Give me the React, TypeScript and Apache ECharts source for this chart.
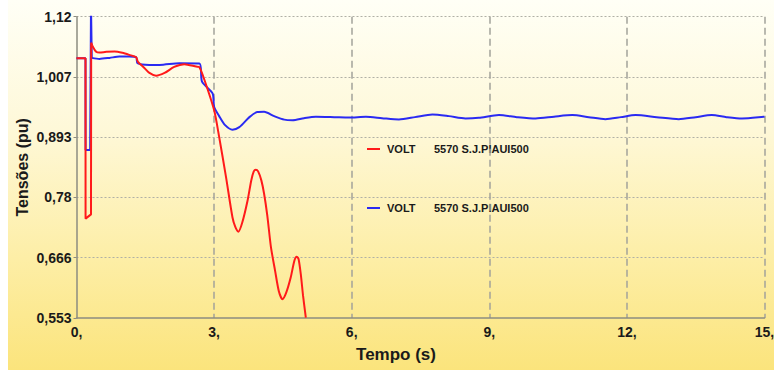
import { useEffect, useRef } from "react";
import * as echarts from "echarts";

const xTicks = [0, 3, 6, 9, 12, 15];
const xTickLabels = ["0,", "3,", "6,", "9,", "12,", "15,"];
const yTicks = [0.553, 0.6664, 0.7798, 0.8932, 1.0066, 1.12];
const yTickLabels = ["0,553", "0,666", "0,78", "0,893", "1,007", "1,12"];
const legendWord = "VOLT";
const legendBus = "5570 S.J.PIAUI500";
const xTitle = "Tempo (s)";
const yTitle = "Tensões (pu)";

const redFault = [
  [0, 1.042], [0.196, 1.042], [0.198, 0.74], [0.316, 0.748], [0.32, 1.071], [0.348, 1.065],
];
const redPost = [
  [0.348, 1.065], [0.429, 1.054], [0.5, 1.0525], [0.65, 1.0539], [0.83, 1.0544], [1.0, 1.052],
  [1.15, 1.0482], [1.3, 1.0438], [1.34, 1.0349], [1.48, 1.0236], [1.59, 1.0142], [1.735, 1.0091],
  [1.92, 1.0142], [2.13, 1.0255], [2.35, 1.0306], [2.61, 1.0261], [2.68, 1.0249], [2.79, 1.0009],
  [3.0, 0.9442], [3.11, 0.8938], [3.26, 0.8182], [3.4, 0.7426], [3.46, 0.725], [3.53, 0.7155],
  [3.614, 0.7326], [3.73, 0.7741], [3.81, 0.8119], [3.865, 0.829], [3.91, 0.8322], [3.96, 0.829],
  [4.03, 0.812], [4.09, 0.7868], [4.16, 0.7458], [4.24, 0.6859], [4.33, 0.6418], [4.41, 0.604],
  [4.49, 0.5883], [4.57, 0.6002], [4.67, 0.6292], [4.75, 0.6607], [4.8, 0.6683], [4.84, 0.6645],
  [4.89, 0.6356], [4.94, 0.5946], [5.0, 0.5536],
];
const blueFault = [
  [0, 1.042], [0.196, 1.042], [0.198, 0.869], [0.298, 0.869], [0.316, 1.14], [0.333, 1.0425],
];
const bluePost = [
  [0.333, 1.0425], [0.5, 1.0406], [0.72, 1.0425], [0.936, 1.045], [1.15, 1.045], [1.3, 1.0438],
  [1.33, 1.0325], [1.59, 1.0293], [1.81, 1.0293], [2.24, 1.0325], [2.68, 1.0321], [2.737, 0.9977],
  [2.967, 0.9758], [3.0, 0.9505], [3.11, 0.9329], [3.24, 0.9159], [3.4, 0.9074], [3.55, 0.9121],
  [3.77, 0.931], [3.94, 0.9405], [4.09, 0.941], [4.31, 0.9329], [4.53, 0.9263], [4.71, 0.9253],
  [4.96, 0.9291], [5.22, 0.9316], [5.62, 0.931], [5.94, 0.9304], [6.31, 0.9316], [6.66, 0.9291],
  [7.03, 0.9267], [7.38, 0.931], [7.76, 0.9361], [8.12, 0.9329], [8.48, 0.9285], [8.77, 0.9297],
  [9.21, 0.9348], [9.6, 0.931], [10.01, 0.9285], [10.41, 0.9319], [10.81, 0.9348], [11.17, 0.931],
  [11.53, 0.9272], [11.87, 0.931], [12.19, 0.9348], [12.65, 0.931], [13.13, 0.9272], [13.5, 0.931],
  [13.85, 0.9348], [14.17, 0.931], [14.51, 0.9285], [14.98, 0.9316], [15, 0.932],
];

const RED = "#ff1a1a";
const BLUE = "#2a2af2";
const FONT = "Liberation Sans, Arial, sans-serif";

export default function App() {
  const ref = useRef<HTMLDivElement>(null);
  useEffect(() => {
    if (!ref.current) return;
    const chart = echarts.init(ref.current, undefined, { renderer: "svg" });
    const lineBase = (name: string, data: number[][], color: string, smooth: number | boolean) => ({
      name,
      type: "line",
      data,
      showSymbol: false,
      symbol: "none",
      smooth,
      clip: true,
      lineStyle: { color, width: 2 },
      itemStyle: { color },
      z: color === BLUE ? 3 : 4,
    });
    const legendItem = (y: number, color: string) => [
      { type: "line", shape: { x1: 359, y1: y, x2: 372, y2: y }, style: { stroke: color, lineWidth: 2 } },
      { type: "text", x: 379, y, style: { text: legendWord, font: `bold 11px ${FONT}`, fill: "#1a1a1a", verticalAlign: "middle" } },
      { type: "text", x: 426, y, style: { text: legendBus, font: `bold 11px ${FONT}`, fill: "#1a1a1a", verticalAlign: "middle" } },
    ];
    chart.setOption({
      animation: false,
      backgroundColor: "transparent",
      grid: { left: 68.5, right: 9.5, top: 16.7, bottom: 52, containLabel: false, outerBoundsMode: "none" },
      xAxis: {
        type: "value",
        min: 0,
        max: 15,
        interval: 3,
        name: xTitle,
        nameLocation: "middle",
        nameGap: 28,
        nameTextStyle: { fontFamily: FONT, fontWeight: "bold", fontSize: 17, color: "#1a1a1a", padding: [0, 49, 0, 0] },
        axisLine: { show: true, lineStyle: { color: "#8c8c80", width: 1.5 } },
        axisTick: { show: false },
        axisLabel: {
          fontFamily: FONT, fontWeight: "bold", fontSize: 14, color: "#1a1a1a", margin: 7,
          formatter: (v: number) => { const i = xTicks.indexOf(v); return i >= 0 ? xTickLabels[i] : ""; },
        },
        splitLine: { show: true, showMinLine: false, lineStyle: { color: "#a3a39a", width: 1.5, type: [7, 4] } },
      },
      yAxis: {
        type: "value",
        min: 0.553,
        max: 1.12,
        name: yTitle,
        nameLocation: "middle",
        nameGap: 46,
        nameMoveOverlap: false,
        nameRotate: 90,
        nameTextStyle: { fontFamily: FONT, fontWeight: "bold", fontSize: 16, color: "#1a1a1a" },
        axisLine: { show: true, lineStyle: { color: "#8c8c80", width: 1.5 } },
        axisTick: { show: true, length: 3, customValues: yTicks, lineStyle: { color: "#8c8c80" } },
        axisLabel: {
          customValues: yTicks,
          fontFamily: FONT, fontWeight: "bold", fontSize: 14, color: "#1a1a1a", margin: 5,
          formatter: (v: number) => {
            let best = 0;
            yTicks.forEach((t, i) => { if (Math.abs(t - v) < Math.abs(yTicks[best] - v)) best = i; });
            return yTickLabels[best];
          },
        },
        splitLine: { show: true, showMinLine: false, lineStyle: { color: "#b0b0a5", width: 1.2, type: [2, 2] } },
      },
      series: [
        lineBase("blueFault", blueFault, BLUE, false),
        lineBase("bluePost", bluePost, BLUE, 0.25),
        lineBase("redFault", redFault, RED, false),
        lineBase("redPost", redPost, RED, 0.25),
      ],
      graphic: [...legendItem(149, RED), ...legendItem(208, BLUE)],
    });
    return () => chart.dispose();
  }, []);
  return (
    <div style={{ position: "fixed", left: 0, top: 0, width: 774, height: 370, background: "#ffffff" }}>
      <div
        ref={ref}
        style={{
          position: "absolute",
          left: 8,
          top: 0,
          width: 766,
          height: 370,
          background: "linear-gradient(to bottom, #fffff6 0%, #fef8d8 35%, #fdeea6 70%, #fbe47c 100%)",
        }}
      />
    </div>
  );
}
